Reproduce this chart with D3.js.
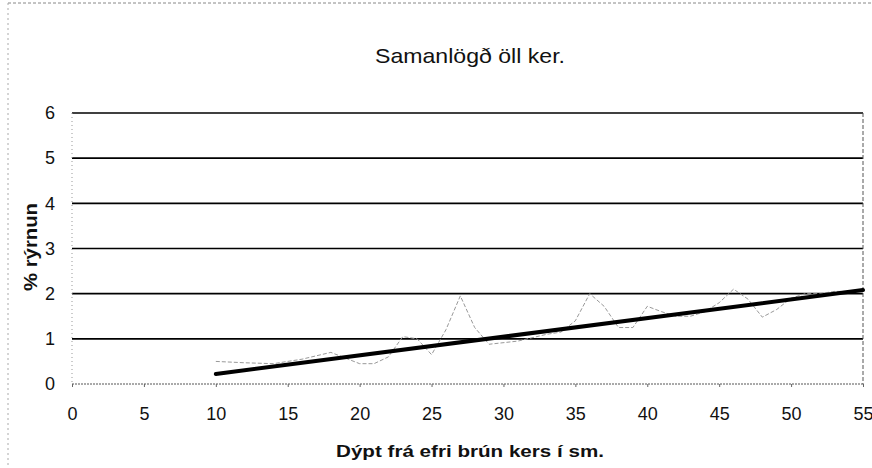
<!DOCTYPE html>
<html>
<head>
<meta charset="utf-8">
<script src="https://cdn.jsdelivr.net/npm/d3@7"></script>
<style>
  body { margin: 0; background: #fff; }
  text { font-family: "Liberation Sans", Arial, sans-serif; fill: #111; }
</style>
</head>
<body>
<svg id="chart"></svg>
<script>
/* Data */
const depth = [10, 12, 14, 16, 18, 20, 21, 22, 23, 24, 25, 26, 27, 28, 29, 31, 33, 34, 35, 36,
  37, 38, 39, 40, 41, 42, 43, 44, 45, 46, 47, 48, 49, 50, 51, 52, 53, 54, 55];
const loss = [0.5, 0.47, 0.45, 0.55, 0.7, 0.45, 0.45, 0.6, 1.05, 1.0, 0.65, 1.2, 1.95, 1.25, 0.88, 0.95, 1.1, 1.15, 1.4, 2.0,
  1.72, 1.25, 1.25, 1.72, 1.6, 1.5, 1.5, 1.6, 1.8, 2.1, 1.88, 1.48, 1.65, 1.9, 2.0, 2.0, 2.05, 2.05, 2.1];
const trendX = [10, 55];
const trendY = [0.22, 2.08];
const xTicks = [0, 5, 10, 15, 20, 25, 30, 35, 40, 45, 50, 55];
const yTicks = [0, 1, 2, 3, 4, 5, 6];

const W = 872, H = 468;
const margin = {top: 113, right: 9, bottom: 84, left: 72};
const width = W - margin.left - margin.right;
const height = H - margin.top - margin.bottom;

const svg = d3.select("#chart").attr("width", W).attr("height", H);

// outer frame (faint, scanned look)
svg.append("line").attr("x1", 8).attr("x2", W).attr("y1", 3).attr("y2", 3)
  .attr("stroke", "#888").attr("stroke-dasharray", "3,2");
svg.append("line").attr("x1", 8).attr("x2", 8).attr("y1", 3).attr("y2", H)
  .attr("stroke", "#aaa").attr("stroke-dasharray", "2,3");

const g = svg.append("g")
  .attr("transform", "translate(" + margin.left + "," + margin.top + ")");

const x = d3.scaleLinear().domain([0, 55]).range([0, width]);
const y = d3.scaleLinear().domain([0, 6]).range([height, 0]);

// gridlines
g.selectAll(".grid")
  .data(yTicks.filter(d => d > 0))
  .enter().append("line")
  .attr("x1", 0).attr("x2", width)
  .attr("y1", d => y(d)).attr("y2", d => y(d))
  .attr("stroke", "#000").attr("stroke-width", 1.6);

// plot edges
g.append("line").attr("x1", 0).attr("x2", width).attr("y1", y(0)).attr("y2", y(0))
  .attr("stroke", "#555").attr("stroke-dasharray", "2,1");
g.append("line").attr("x1", 0).attr("x2", 0).attr("y1", 0).attr("y2", height)
  .attr("stroke", "#999").attr("stroke-dasharray", "1,3");
g.append("line").attr("x1", width).attr("x2", width).attr("y1", 0).attr("y2", height)
  .attr("stroke", "#555").attr("stroke-dasharray", "4,2");

// axes
const xAxis = g.append("g")
  .attr("transform", "translate(0," + height + ")")
  .call(d3.axisBottom(x).tickValues(xTicks).tickSize(3).tickPadding(20));
xAxis.select(".domain").remove();
xAxis.selectAll("line").attr("stroke", "#666");
xAxis.selectAll("text").style("font-size", "18px").attr("fill", "#111");

const yAxis = g.append("g")
  .call(d3.axisLeft(y).tickValues(yTicks).tickFormat(d3.format("d")).tickSize(0).tickPadding(22));
yAxis.select(".domain").remove();
yAxis.selectAll("text").style("font-size", "18px").attr("fill", "#111")
  .attr("text-anchor", "middle");

// data series
const line = d3.line().x((d, i) => x(depth[i])).y(d => y(d));
g.append("path")
  .datum(loss)
  .attr("d", line)
  .attr("fill", "none")
  .attr("stroke", "#999")
  .attr("stroke-width", 1)
  .attr("stroke-dasharray", "4,2");

// trend line
const tline = d3.line().x((d, i) => x(trendX[i])).y(d => y(d));
g.append("path")
  .datum(trendY)
  .attr("d", tline)
  .attr("fill", "none")
  .attr("stroke", "#000")
  .attr("stroke-width", 4)
  .attr("stroke-linecap", "round");

// titles
svg.append("text")
  .attr("x", 470).attr("y", 63)
  .attr("text-anchor", "middle")
  .attr("textLength", 190).attr("lengthAdjust", "spacingAndGlyphs")
  .style("font-size", "21px")
  .text("Samanlögð öll ker.");

svg.append("text")
  .attr("x", 470).attr("y", 457)
  .attr("text-anchor", "middle")
  .attr("textLength", 268).attr("lengthAdjust", "spacingAndGlyphs")
  .style("font-size", "17px")
  .style("font-weight", "bold")
  .text("Dýpt frá efri brún kers í sm.");

svg.append("text")
  .attr("transform", "translate(37,247) rotate(-90)")
  .attr("text-anchor", "middle")
  .attr("textLength", 88).attr("lengthAdjust", "spacingAndGlyphs")
  .style("font-size", "19px")
  .style("font-weight", "bold")
  .text("% rýrnun");
</script>
</body>
</html>
